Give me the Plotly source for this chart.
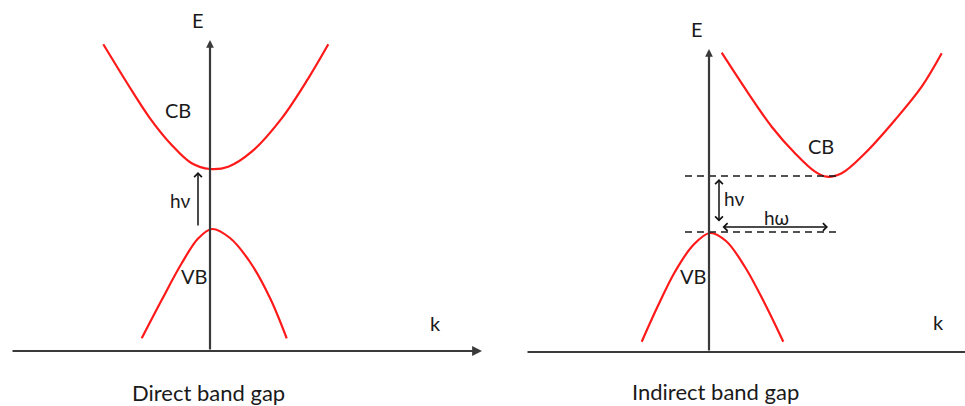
import plotly.graph_objects as go

# ---------- data (k, E in arbitrary units) ----------
# Direct band gap panel
direct_cb_k = [-1.067, -0.817, -0.60, -0.383, -0.183, 0.0, 0.183, 0.417, 0.717, 0.983, 1.183]
direct_cb_E = [3.067, 2.66, 2.327, 2.06, 1.877, 1.82, 1.843, 1.993, 2.327, 2.727, 3.067]
direct_vb_k = [-0.683, -0.483, -0.283, -0.117, 0.02, 0.2, 0.4, 0.6, 0.767]
direct_vb_E = [0.127, 0.51, 0.877, 1.127, 1.22, 1.13, 0.89, 0.53, 0.127]

# Indirect band gap panel
indirect_cb_k = [0.127, 0.393, 0.627, 0.86, 1.06, 1.177, 1.327, 1.56, 1.86, 2.127, 2.327]
indirect_cb_E = [2.993, 2.587, 2.253, 1.987, 1.803, 1.753, 1.787, 1.987, 2.32, 2.653, 2.987]
indirect_vb_k = [-0.673, -0.507, -0.34, -0.157, 0.01, 0.17, 0.36, 0.56, 0.743]
indirect_vb_E = [0.103, 0.47, 0.803, 1.07, 1.19, 1.11, 0.85, 0.48, 0.103]

# gap levels / transitions
direct_gap = [1.24, 1.79]          # hv arrow (E from, E to)
indirect_levels = [1.20, 1.76]     # dashed lines (VB max, CB min)
indirect_level_k = [-0.24, 1.29]   # dashed line extent
indirect_hv = [1.29, 1.73]
indirect_hw_k = [0.12, 1.19]

panel_titles = ["Direct band gap", "Indirect band gap"]

RED = "#ff1a1a"
AX = "#3a3a3a"
FONT = "Lato, 'Open Sans', sans-serif"

fig = go.Figure()

def curve(k, E, xa, ya):
    fig.add_trace(go.Scatter(x=k, y=E, mode="lines", line=dict(color=RED, width=2.2, shape="spline", smoothing=1.0),
                             xaxis=xa, yaxis=ya, showlegend=False, hoverinfo="skip"))

curve(direct_cb_k, direct_cb_E, "x", "y")
curve(direct_vb_k, direct_vb_E, "x", "y")
curve(indirect_cb_k, indirect_cb_E, "x2", "y2")
curve(indirect_vb_k, indirect_vb_E, "x2", "y2")

# dashed level lines in indirect panel
for lvl in indirect_levels:
    fig.add_trace(go.Scatter(x=indirect_level_k, y=[lvl, lvl], mode="lines",
                             line=dict(color="#1a1a1a", width=1.7, dash="7px,5px"),
                             xaxis="x2", yaxis="y2", showlegend=False, hoverinfo="skip"))

ann = []
def arrow(x0, y0, x1, y1, xr, yr, color=AX, width=2.2, head=2, size=0.8, side="end"):
    ann.append(dict(x=x1, y=y1, ax=x0, ay=y0, xref=xr, yref=yr, axref=xr, ayref=yr,
                    showarrow=True, arrowhead=head, arrowsize=size, arrowwidth=width,
                    arrowcolor=color, arrowside=side, text="", standoff=0, startstandoff=0))

def label(t, x, y, xr, yr, size=20):
    ann.append(dict(x=x, y=y, xref=xr, yref=yr, text=t, showarrow=False,
                    font=dict(family=FONT, size=size, color="#1a1a1a")))

# axes of the direct panel
arrow(-1.99, 0, 2.72, 0, "x", "y", size=0.9)
arrow(0, 0, 0, 3.11, "x", "y", size=0.7)
# axes of the indirect panel
arrow(-1.83, 0, 2.60, 0, "x2", "y2", head=0)
arrow(0, 0, 0, 3.03, "x2", "y2", size=0.7)

# transitions
arrow(-0.12, direct_gap[0], -0.12, direct_gap[1], "x", "y", color="#111111", width=1.5, head=4, size=1.0)
arrow(0.10, indirect_hv[0], 0.10, indirect_hv[1], "x2", "y2", color="#111111", width=1.5, head=4, size=1.0, side="end+start")
arrow(indirect_hw_k[0], 1.25, indirect_hw_k[1], 1.25, "x2", "y2", color="#111111", width=1.5, head=4, size=1.0, side="end+start")

# labels
label("E", -0.12, 3.31, "x", "y")
label("CB", -0.32, 2.41, "x", "y")
label("VB", -0.16, 0.75, "x", "y")
label("hν", -0.30, 1.51, "x", "y", size=19)
label("k", 2.25, 0.28, "x", "y")
label(panel_titles[0], -0.02, -0.41, "x", "y", size=22)

label("E", -0.12, 3.23, "x2", "y2")
label("CB", 1.12, 2.06, "x2", "y2")
label("VB", -0.16, 0.76, "x2", "y2")
label("hν", 0.25, 1.54, "x2", "y2", size=19)
label("hω", 0.67, 1.35, "x2", "y2", size=19)
label("k", 2.29, 0.30, "x2", "y2")
label(panel_titles[1], 0.06, -0.39, "x2", "y2", size=22)

ax_common = dict(visible=False, showgrid=False, zeroline=False, fixedrange=True)
fig.update_layout(
    width=965, height=406,
    margin=dict(l=0, r=0, t=0, b=0),
    paper_bgcolor="white", plot_bgcolor="white",
    xaxis=dict(domain=[0, 490/965], range=[-2.10, 2.80], **ax_common),
    yaxis=dict(domain=[0, 1], range=[-0.55, 3.51], **ax_common),
    xaxis2=dict(domain=[490/965, 1], range=[-2.19, 2.56], anchor="y2", **ax_common),
    yaxis2=dict(domain=[0, 1], range=[-0.54, 3.52], anchor="x2", **ax_common),
    annotations=ann,
    showlegend=False,
)

fig.write_html("out.html", config={"displayModeBar": False},
               post_script="document.body.style.margin='0';document.body.style.padding='0';document.body.style.overflow='hidden';")
